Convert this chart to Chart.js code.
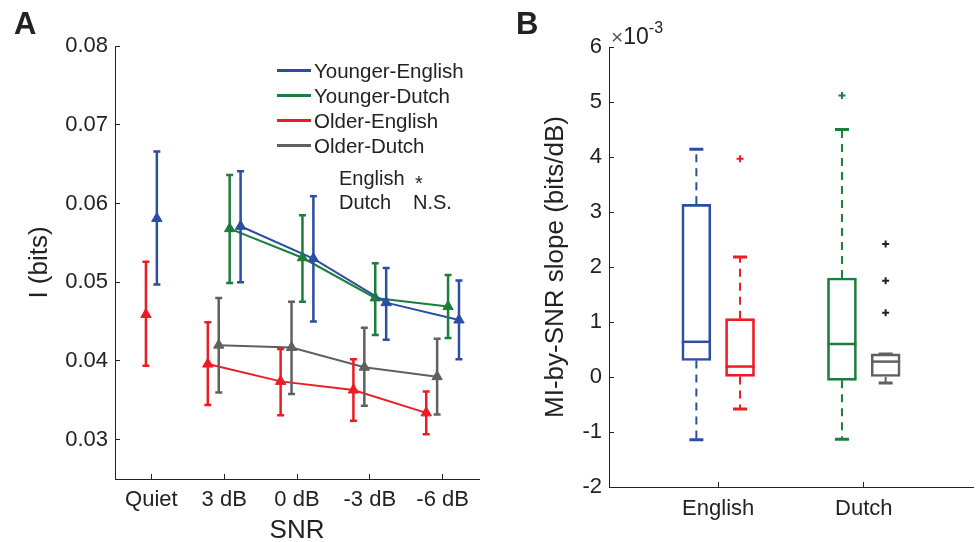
<!DOCTYPE html>
<html>
<head>
<meta charset="utf-8">
<script src="https://cdn.jsdelivr.net/npm/chart.js@4.4.1/dist/chart.umd.min.js"></script>
<style>
  html, body { margin: 0; padding: 0; background: #fff; }
  #fig { position: relative; width: 980px; height: 542px; font-family: "Liberation Sans", Arial, sans-serif; color: #222; }
  .panel { position: absolute; top: 0; height: 542px; }
  #panelA { left: 0; width: 500px; }
  #panelB { left: 500px; width: 480px; }
  .tag { position: absolute; top: 8px; font-size: 31px; font-weight: bold; line-height: 1; }
  #legendA { position: absolute; left: 277px; top: 58px; font-size: 20.5px; }
  #legendA .row { display: flex; align-items: center; height: 25px; }
  #legendA .swatch { width: 34px; height: 3px; margin-right: 3px; }
  .note { position: absolute; font-size: 20px; line-height: 1; white-space: nowrap; }
  .exp { position: absolute; left: 611px; top: 22px; font-size: 23px; line-height: 1; }
  .exp .times { color: #555; font-size: 21px; }
  .exp sup { font-size: 16px; position: relative; top: -2px; }
</style>
</head>
<body>
<div id="fig">
  <div class="panel" id="panelA"><canvas id="snrChart"></canvas></div>
  <div class="panel" id="panelB"><canvas id="slopeChart"></canvas></div>
  <div class="tag" style="left:14px">A</div>
  <div class="tag" style="left:516px">B</div>
  <div id="legendA"></div>
  <div class="note" style="left:339px; top:168px">English</div>
  <div class="note" style="left:415px; top:173px">*</div>
  <div class="note" style="left:339px; top:192px">Dutch</div>
  <div class="note" style="left:413px; top:192px">N.S.</div>
  <div class="exp"><span class="times">&times;</span>10<sup>-3</sup></div>
</div>

<script>
// ---- Panel A: mutual information vs SNR ----
const snrLabels = ['Quiet', '3 dB', '0 dB', '-3 dB', '-6 dB'];
const infoTicks = [0.03, 0.04, 0.05, 0.06, 0.07, 0.08];

const youngEnglishMean = [0.0581, 0.0571, 0.0530, 0.0474, 0.0452];
const youngEnglishLow  = [0.0497, 0.0500, 0.0450, 0.0427, 0.0402];
const youngEnglishHigh = [0.0666, 0.0641, 0.0609, 0.0518, 0.0502];

const youngDutchMean = [null, 0.0568, 0.0531, 0.0480, 0.0469];
const youngDutchLow  = [null, 0.0499, 0.0475, 0.0433, 0.0429];
const youngDutchHigh = [null, 0.0636, 0.0585, 0.0524, 0.0509];

const oldEnglishMean = [0.0459, 0.0396, 0.0374, 0.0363, 0.0334];
const oldEnglishLow  = [0.0394, 0.0344, 0.0331, 0.0324, 0.0307];
const oldEnglishHigh = [0.0526, 0.0449, 0.0415, 0.0402, 0.0361];

const oldDutchMean = [null, 0.0420, 0.0417, 0.0392, 0.0380];
const oldDutchLow  = [null, 0.0360, 0.0358, 0.0343, 0.0332];
const oldDutchHigh = [null, 0.0480, 0.0475, 0.0442, 0.0428];

// ---- Panel B: slope boxplots (bits/dB) ----
const languages = ['English', 'Dutch'];
const slopeTicks = [-2, -1, 0, 1, 2, 3, 4, 5, 6]; // x 10^-3
const boxNames   = ['Younger-English', 'Older-English', 'Younger-Dutch', 'Older-Dutch'];
const whiskerLow  = [-0.00114, -0.00058, -0.00113, -0.00011];
const quartile1   = [0.00030, 0.00001, -0.00006, 0.00000];
const medians     = [0.00064, 0.00019, 0.00060, 0.00028];
const quartile3   = [0.00314, 0.00106, 0.00180, 0.00042];
const whiskerHigh = [0.00414, 0.00218, 0.00450, 0.00042];
const youngEnglishOutliers = [];
const oldEnglishOutliers   = [0.00397];
const youngDutchOutliers   = [0.00512];
const oldDutchOutliers     = [0.00117, 0.00175, 0.00242];

const ink = '#222';
const family = '"Liberation Sans", Arial, sans-serif';
const colors = {
  'Younger-English': '#2b4ea2',
  'Younger-Dutch': '#1b7f3b',
  'Older-English': '#ec1c24',
  'Older-Dutch': '#5f6062'
};

const series = [
  { name: 'Younger-English', mean: youngEnglishMean, low: youngEnglishLow, high: youngEnglishHigh },
  { name: 'Younger-Dutch', mean: youngDutchMean, low: youngDutchLow, high: youngDutchHigh },
  { name: 'Older-English', mean: oldEnglishMean, low: oldEnglishLow, high: oldEnglishHigh },
  { name: 'Older-Dutch', mean: oldDutchMean, low: oldDutchLow, high: oldDutchHigh }
];

// side-by-side order within each SNR condition (left to right)
const dodgeOrder = ['Older-English', 'Older-Dutch', 'Younger-Dutch', 'Younger-English'];
const dodgeStep = 0.15;

function dodge(name, i) {
  const present = dodgeOrder.filter(n => series.find(s => s.name === n).mean[i] != null);
  const k = present.indexOf(name);
  return (k - (present.length - 1) / 2) * dodgeStep;
}

// legend
const legendA = document.getElementById('legendA');
series.forEach(s => {
  legendA.insertAdjacentHTML('beforeend',
    `<div class="row"><span class="swatch" style="background:${colors[s.name]}"></span>${s.name}</div>`);
});

const errorBars = {
  id: 'errorBars',
  afterDatasetsDraw(chart) {
    const { ctx, scales: { y } } = chart;
    chart.data.datasets.forEach((ds, i) => {
      const meta = chart.getDatasetMeta(i);
      ds.errLow.forEach((lo, j) => {
        if (lo == null) return;
        const x = meta.data[j].x;
        const y1 = y.getPixelForValue(lo);
        const y2 = y.getPixelForValue(ds.errHigh[j]);
        ctx.save();
        ctx.strokeStyle = ds.borderColor;
        ctx.lineWidth = 2.5;
        ctx.beginPath();
        ctx.moveTo(x, y1); ctx.lineTo(x, y2);
        ctx.moveTo(x - 3.5, y1); ctx.lineTo(x + 3.5, y1);
        ctx.moveTo(x - 3.5, y2); ctx.lineTo(x + 3.5, y2);
        ctx.stroke();
        ctx.restore();
      });
    });
  }
};

const tickFont = { family, size: 22 };
const titleFont = { family, size: 26, lineHeight: 1 };

new Chart(document.getElementById('snrChart'), {
  type: 'line',
  data: {
    datasets: series.map(s => ({
      label: s.name,
      data: s.mean.map((v, i) => ({ x: i + (v == null ? 0 : dodge(s.name, i)), y: v })),
      errLow: s.low,
      errHigh: s.high,
      borderColor: colors[s.name],
      backgroundColor: colors[s.name],
      borderWidth: 2,
      pointStyle: 'triangle',
      pointRadius: 6,
      pointBorderWidth: 1,
      spanGaps: false,
      // quiet condition is not joined to the noisy ones
      segment: { borderColor: ctx => ctx.p0DataIndex === 0 ? 'rgba(0,0,0,0)' : undefined }
    }))
  },
  options: {
    responsive: true,
    maintainAspectRatio: false,
    animation: false,
    layout: { padding: { top: 46, right: 21, left: 0, bottom: 0 } },
    plugins: { legend: { display: false }, tooltip: { enabled: false } },
    scales: {
      x: {
        type: 'linear', min: -0.5, max: 4.5,
        afterBuildTicks: s => { s.ticks = snrLabels.map((_, i) => ({ value: i })); },
        afterFit: s => { s.height = 63; },
        ticks: { callback: v => snrLabels[v], font: tickFont, color: ink, padding: 13, maxRotation: 0, autoSkip: false },
        grid: { drawOnChartArea: false, tickLength: -5, color: ink },
        border: { color: ink, width: 1 },
        title: { display: true, text: 'SNR', font: titleFont, color: ink, padding: { top: 0, bottom: -2 } }
      },
      y: {
        min: 0.025, max: 0.08,
        afterBuildTicks: s => { s.ticks = infoTicks.map(v => ({ value: v })); },
        afterFit: s => { s.width = 115; },
        ticks: { callback: v => v.toFixed(2), font: tickFont, color: ink, padding: 12 },
        grid: { drawOnChartArea: false, tickLength: -5, color: ink },
        border: { color: ink, width: 1 },
        title: { display: true, text: 'I (bits)', font: titleFont, color: ink, padding: { top: 27, bottom: 0 } }
      }
    }
  },
  plugins: [errorBars]
});

// ---- boxplots ----
const boxPos = boxNames.map(n => {
  const lang = n.split('-')[1];
  return languages.indexOf(lang) + 1 + (n.startsWith('Younger') ? -0.15 : 0.15);
});
const outlierSets = [youngEnglishOutliers, oldEnglishOutliers, youngDutchOutliers, oldDutchOutliers];
const outlierColors = [colors['Younger-English'], colors['Older-English'], colors['Younger-Dutch'], ink];

const boxParts = {
  id: 'boxParts',
  afterDatasetsDraw(chart) {
    const { ctx, scales: { x, y } } = chart;
    const bars = chart.getDatasetMeta(0).data;
    boxNames.forEach((n, k) => {
      const cx = x.getPixelForValue(boxPos[k]);
      const hw = bars[k].width / 2;
      const col = colors[n];
      ctx.save();
      ctx.strokeStyle = col;
      // dashed whiskers
      ctx.lineWidth = 2;
      ctx.setLineDash([8, 6]);
      ctx.beginPath();
      ctx.moveTo(cx, y.getPixelForValue(quartile3[k])); ctx.lineTo(cx, y.getPixelForValue(whiskerHigh[k]));
      ctx.moveTo(cx, y.getPixelForValue(quartile1[k])); ctx.lineTo(cx, y.getPixelForValue(whiskerLow[k]));
      ctx.stroke();
      ctx.setLineDash([]);
      // whisker caps
      ctx.lineWidth = 3;
      ctx.beginPath();
      [whiskerHigh[k], whiskerLow[k]].forEach(v => {
        const py = y.getPixelForValue(v);
        ctx.moveTo(cx - 7, py); ctx.lineTo(cx + 7, py);
      });
      ctx.stroke();
      // median
      ctx.lineWidth = 2.5;
      ctx.beginPath();
      const my = y.getPixelForValue(medians[k]);
      ctx.moveTo(cx - hw, my); ctx.lineTo(cx + hw, my);
      ctx.stroke();
      ctx.restore();
    });
  }
};

new Chart(document.getElementById('slopeChart'), {
  type: 'bar',
  data: {
    datasets: [
      {
        label: 'IQR',
        data: quartile1.map((lo, k) => ({ x: boxPos[k], y: [lo, quartile3[k]] })),
        backgroundColor: 'rgba(0,0,0,0)',
        borderColor: boxNames.map(n => colors[n]),
        borderWidth: 2,
        borderSkipped: false,
        barThickness: 29,
        grouped: false
      },
      ...outlierSets.map((vals, k) => ({
        type: 'scatter',
        label: boxNames[k] + ' outliers',
        data: vals.map(v => ({ x: boxPos[k], y: v })),
        pointStyle: 'cross',
        pointRadius: 3.5,
        borderWidth: 2,
        borderColor: outlierColors[k],
        backgroundColor: outlierColors[k]
      }))
    ]
  },
  options: {
    responsive: true,
    maintainAspectRatio: false,
    animation: false,
    layout: { padding: { top: 47, right: 7, left: 0, bottom: 0 } },
    plugins: { legend: { display: false }, tooltip: { enabled: false } },
    scales: {
      x: {
        type: 'linear', min: 0.25, max: 2.75, offset: false,
        afterBuildTicks: s => { s.ticks = languages.map((_, i) => ({ value: i + 1 })); },
        afterFit: s => { s.height = 55; },
        ticks: { callback: v => languages[v - 1], font: tickFont, color: ink, padding: 14, maxRotation: 0, autoSkip: false },
        grid: { drawOnChartArea: false, offset: false, tickLength: -5, color: ink },
        border: { color: ink, width: 1 }
      },
      y: {
        min: -0.002, max: 0.006,
        afterBuildTicks: s => { s.ticks = slopeTicks.map(v => ({ value: v / 1000 })); },
        afterFit: s => { s.width = 109; },
        ticks: { callback: v => String(Math.round(v * 1000)), font: tickFont, color: ink, padding: 12 },
        grid: { drawOnChartArea: false, tickLength: -5, color: ink },
        border: { color: ink, width: 1 },
        title: { display: true, text: 'MI-by-SNR slope (bits/dB)', font: titleFont, color: ink, padding: { top: 43, bottom: 0 } }
      }
    }
  },
  plugins: [boxParts]
});
</script>
</body>
</html>
